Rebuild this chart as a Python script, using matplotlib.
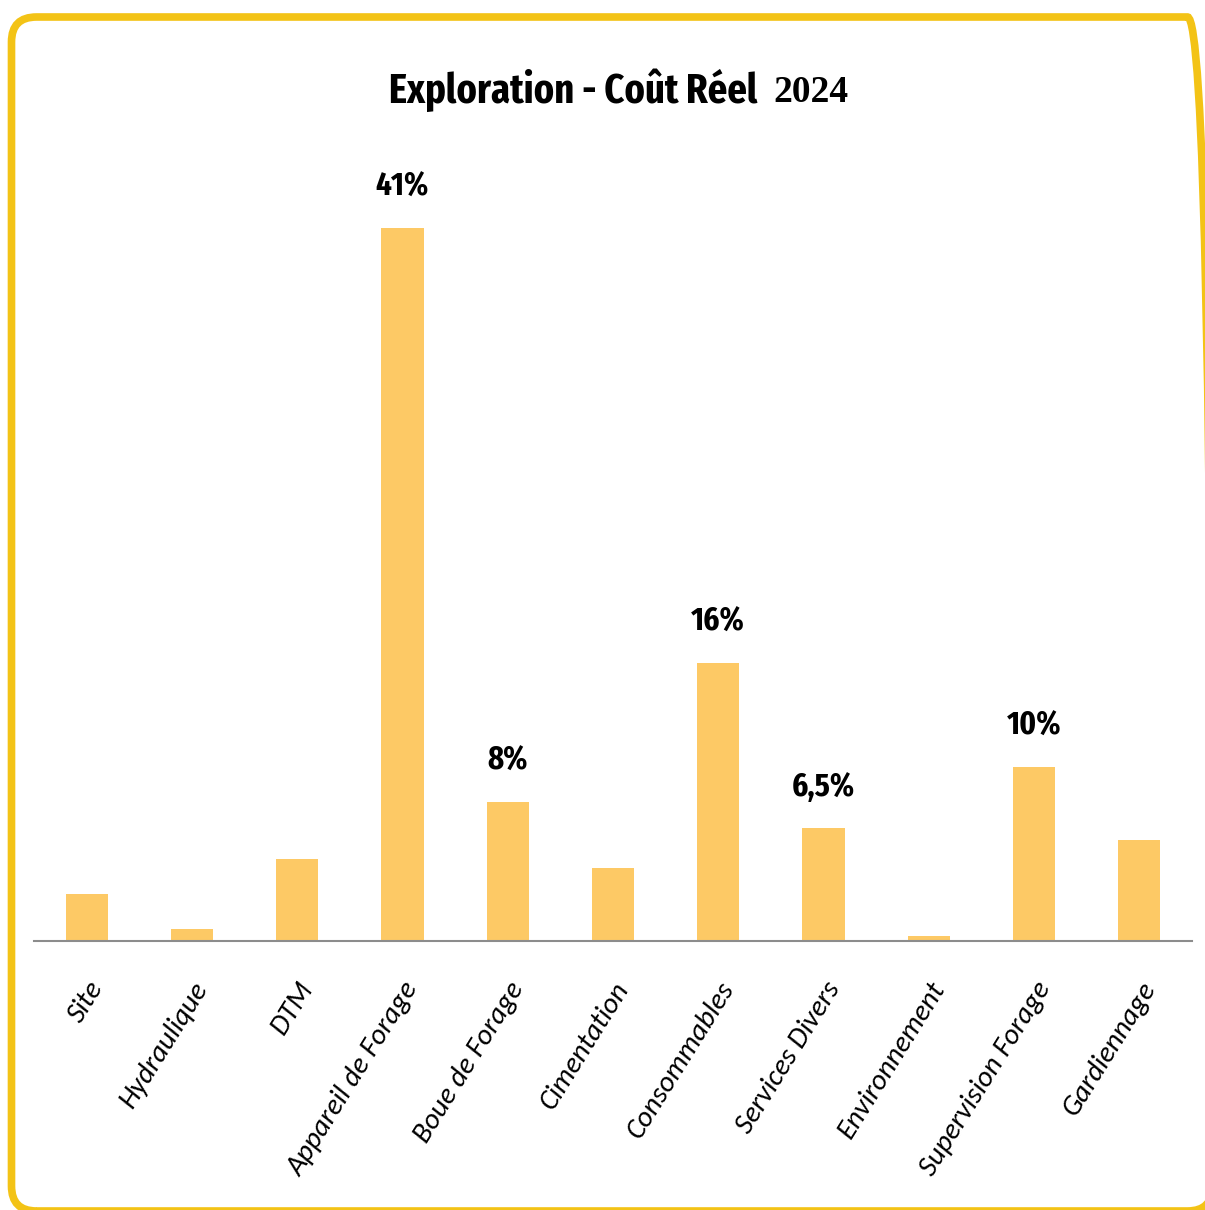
import matplotlib.pyplot as plt
from matplotlib.patches import FancyBboxPatch

categories = ["Site", "Hydraulique", "DTM", "Appareil de Forage", "Boue de Forage",
              "Cimentation", "Consommables", "Services Divers", "Environnement",
              "Supervision Forage", "Gardiennage"]
values = [2.7, 0.7, 4.7, 41, 8, 4.2, 16, 6.5, 0.3, 10, 5.8]
labels = [None, None, None, "41%", "8%", None, "16%", "6,5%", None, "10%", None]

bar_color = "#FDC965"
frame_color = "#F3C316"
narrow = ["Fira Sans Extra Condensed", "DejaVu Sans"]

fig = plt.figure(figsize=(12.05, 12.1), dpi=100)
fig.patch.set_facecolor("white")

# rounded yellow frame, sized in inches so the corners stay circular
frame = FancyBboxPatch((0.115, -0.01), 12.01, 11.94,
                       boxstyle="round,pad=0,rounding_size=0.25",
                       transform=fig.dpi_scale_trans, facecolor="none",
                       edgecolor=frame_color, linewidth=5.5, zorder=-1)
fig.patches.append(frame)

ax = fig.add_axes([34 / 1205, 269 / 1210, 1158 / 1205, 791 / 1210])
ax.set_facecolor("none")
x = list(range(len(categories)))
ax.bar(x, values, width=0.4, color=bar_color, zorder=2)

for xi, v, lab in zip(x, values, labels):
    if lab:
        ax.annotate(lab, (xi, v), xytext=(0, 18), textcoords="offset points",
                    ha="center", va="bottom", fontsize=24, fontweight="bold",
                    family=narrow)

ax.set_xlim(-0.5, len(categories) - 0.5)
ax.set_ylim(0, 45.5)
ax.set_yticks([])
for side in ["top", "right", "left"]:
    ax.spines[side].set_visible(False)
ax.spines["bottom"].set_color("#8C8C8C")
ax.spines["bottom"].set_linewidth(1.5)
ax.tick_params(axis="x", length=0, pad=26)
ax.set_xticks(x)
ax.set_xticklabels(categories, rotation=58, ha="right", rotation_mode="anchor",
                   fontsize=21, fontstyle="italic", family="Carlito")

fig.text(573 / 1205, 1 - 90 / 1210, "Exploration - Coût Réel", ha="center", va="center",
         fontsize=30, fontweight="bold", family=narrow)
fig.text(811 / 1205, 1 - 93 / 1210, "2024", ha="center", va="center",
         fontsize=27, fontweight="bold", family="Liberation Serif")

fig.savefig("out.png", dpi=100)
